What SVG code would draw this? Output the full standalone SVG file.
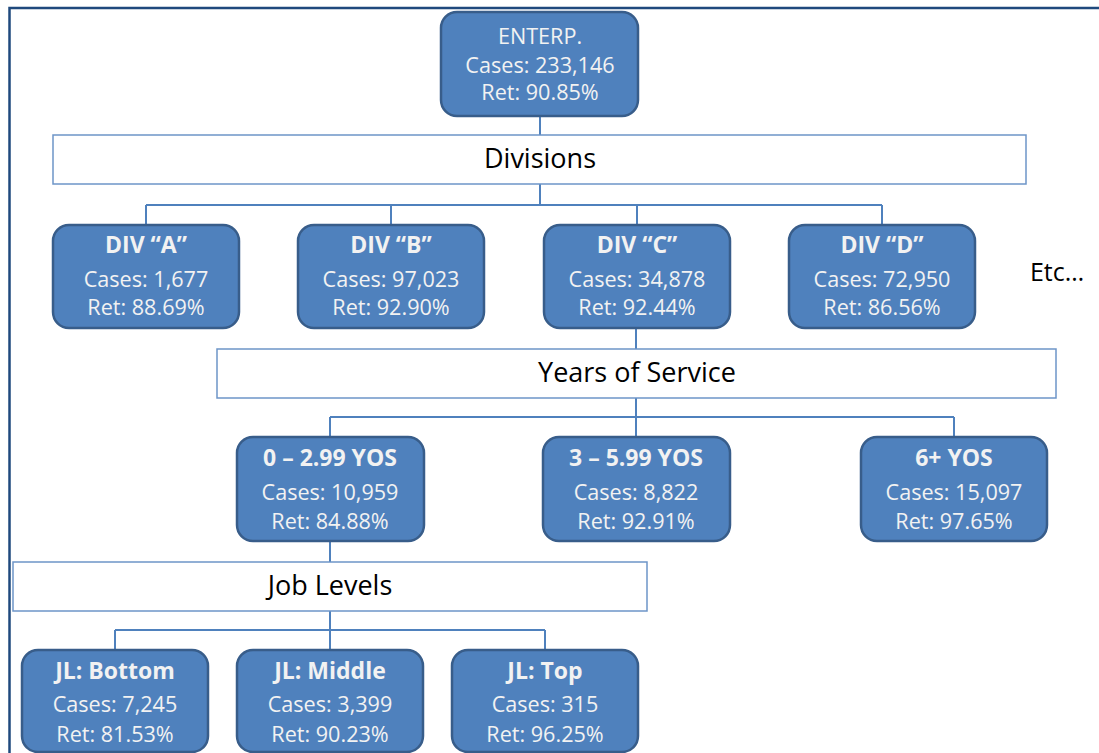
<svg xmlns="http://www.w3.org/2000/svg" width="1099" height="753" viewBox="0 0 1099 753">
  <style>
    .node rect { fill: #4f81bd; stroke: #385d8a; stroke-width: 2.5; }
    .node text { fill: #f2f2f2; font-family: "Open Sans", "Liberation Sans", sans-serif; font-size: 21.6px; text-anchor: middle; }
    .node text.t { font-weight: bold; font-size: 23px; }
    .bar rect { fill: #ffffff; stroke: #6d95c8; stroke-width: 1.5; }
    .bar text, .note { fill: #000000; font-family: "Open Sans", "Liberation Sans", sans-serif; font-size: 27px; text-anchor: middle; }
    .links path { fill: none; stroke: #4f81bd; stroke-width: 2; }
    .frame { fill: none; stroke: #1f497d; stroke-width: 2.5; }
  </style>

  <rect width="1099" height="753" fill="#ffffff"/>
  <path class="frame" d="M9.5,753 V8 H1099"/>

  <!-- connectors -->
  <g class="links">
    <path d="M540,116 V135"/>
    <path d="M540,184 V205 M146,205 H882 M146,205 V225 M391,205 V225 M637,205 V225 M882,205 V225"/>
    <path d="M636,328 V349"/>
    <path d="M636,398 V417 M330,417 H954 M330,417 V437 M636,417 V437 M954,417 V437"/>
    <path d="M330,541 V562"/>
    <path d="M330,611 V630 M115,630 H545 M115,630 V650 M330,630 V650 M545,630 V650"/>
  </g>

  <!-- top level -->
  <g id="enterp" class="node">
    <rect x="441" y="12" width="197" height="104" rx="16"/>
    <text x="540" y="44">ENTERP.</text>
    <text x="540" y="73">Cases: 233,146</text>
    <text x="540" y="100">Ret: 90.85%</text>
  </g>

  <g id="divisions" class="bar">
    <rect x="53" y="135" width="973" height="49"/>
    <text x="540" y="168">Divisions</text>
  </g>

  <!-- divisions -->
  <g id="div-a" class="node">
    <rect x="53" y="225" width="186" height="103" rx="16"/>
    <text class="t" x="146" y="253">DIV “A”</text>
    <text x="146" y="287">Cases: 1,677</text>
    <text x="146" y="315">Ret: 88.69%</text>
  </g>
  <g id="div-b" class="node">
    <rect x="298" y="225" width="186" height="103" rx="16"/>
    <text class="t" x="391" y="253">DIV “B”</text>
    <text x="391" y="287">Cases: 97,023</text>
    <text x="391" y="315">Ret: 92.90%</text>
  </g>
  <g id="div-c" class="node">
    <rect x="544" y="225" width="186" height="103" rx="16"/>
    <text class="t" x="637" y="253">DIV “C”</text>
    <text x="637" y="287">Cases: 34,878</text>
    <text x="637" y="315">Ret: 92.44%</text>
  </g>
  <g id="div-d" class="node">
    <rect x="789" y="225" width="186" height="103" rx="16"/>
    <text class="t" x="882" y="253">DIV “D”</text>
    <text x="882" y="287">Cases: 72,950</text>
    <text x="882" y="315">Ret: 86.56%</text>
  </g>

  <text id="etc" class="note" x="1057" y="281" style="font-size:25px">Etc…</text>

  <g id="years" class="bar">
    <rect x="217" y="349" width="839" height="49"/>
    <text x="637" y="382">Years of Service</text>
  </g>

  <!-- years of service -->
  <g id="yos-0" class="node">
    <rect x="237" y="437" width="187" height="104" rx="16"/>
    <text class="t" x="330" y="466">0 – 2.99 YOS</text>
    <text x="330" y="500">Cases: 10,959</text>
    <text x="330" y="529">Ret: 84.88%</text>
  </g>
  <g id="yos-3" class="node">
    <rect x="543" y="437" width="187" height="104" rx="16"/>
    <text class="t" x="636" y="466">3 – 5.99 YOS</text>
    <text x="636" y="500">Cases: 8,822</text>
    <text x="636" y="529">Ret: 92.91%</text>
  </g>
  <g id="yos-6" class="node">
    <rect x="861" y="437" width="186" height="104" rx="16"/>
    <text class="t" x="954" y="466">6+ YOS</text>
    <text x="954" y="500">Cases: 15,097</text>
    <text x="954" y="529">Ret: 97.65%</text>
  </g>

  <g id="joblevels" class="bar">
    <rect x="13" y="562" width="634" height="49"/>
    <text x="330" y="595">Job Levels</text>
  </g>

  <!-- job levels -->
  <g id="jl-bottom" class="node">
    <rect x="22" y="650" width="186" height="102" rx="16"/>
    <text class="t" x="115" y="679">JL: Bottom</text>
    <text x="115" y="712">Cases: 7,245</text>
    <text x="115" y="742">Ret: 81.53%</text>
  </g>
  <g id="jl-middle" class="node">
    <rect x="237" y="650" width="186" height="102" rx="16"/>
    <text class="t" x="330" y="679">JL: Middle</text>
    <text x="330" y="712">Cases: 3,399</text>
    <text x="330" y="742">Ret: 90.23%</text>
  </g>
  <g id="jl-top" class="node">
    <rect x="452" y="650" width="186" height="102" rx="16"/>
    <text class="t" x="545" y="679">JL: Top</text>
    <text x="545" y="712">Cases: 315</text>
    <text x="545" y="742">Ret: 96.25%</text>
  </g>
</svg>
